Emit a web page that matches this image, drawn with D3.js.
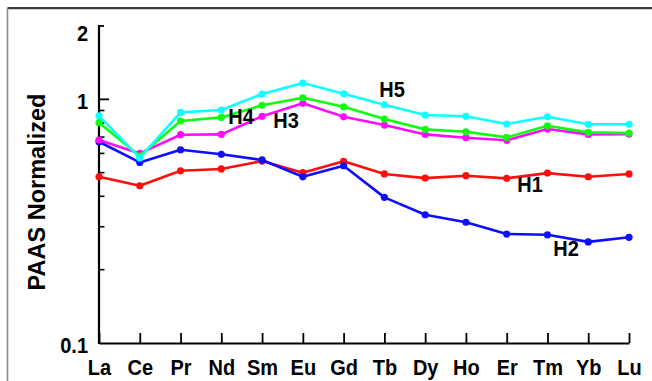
<!DOCTYPE html>
<html><head><meta charset="utf-8">
<script src="https://cdn.jsdelivr.net/npm/d3@7"></script>
<style>
html,body{margin:0;padding:0;background:#fff;}
svg{display:block;}
text{font-family:"Liberation Sans",Arial,Helvetica,sans-serif;font-weight:bold;fill:#000;}
</style></head>
<body>
<svg id="chart" width="652" height="381"></svg>
<script>
const elements = ["La","Ce","Pr","Nd","Sm","Eu","Gd","Tb","Dy","Ho","Er","Tm","Yb","Lu"];
const seriesNames = ["H1","H2","H3","H4","H5"];
const seriesColors = ["#ff0d0d","#0d0dff","#ff0dff","#0dff0d","#0dffff"];
const H1 = [0.481,0.442,0.509,0.518,0.558,0.500,0.557,0.494,0.475,0.486,0.474,0.498,0.481,0.494];
const H2 = [0.670,0.551,0.621,0.595,0.564,0.481,0.534,0.396,0.336,0.313,0.280,0.278,0.260,0.2715];
const H3 = [0.681,0.600,0.716,0.718,0.852,0.963,0.848,0.784,0.718,0.696,0.679,0.755,0.718,0.720];
const H4 = [0.802,0.585,0.815,0.843,0.945,1.015,0.932,0.830,0.753,0.736,0.698,0.779,0.732,0.727];
const H5 = [0.856,0.575,0.884,0.904,1.051,1.166,1.054,0.950,0.862,0.852,0.792,0.848,0.790,0.790];
const yMajorTicks = [0.1, 1, 2];
const yMinorTicks = [0.2,0.3,0.4,0.5,0.6,0.7,0.8,0.9];
const yTitle = "PAAS Normalized";

const seriesData = [H1,H2,H3,H4,H5];

const svg = d3.select("#chart");
// frame (cropped figure border)
svg.append("line").attr("x1",7.5).attr("x2",652).attr("y1",8).attr("y2",8).attr("stroke","#3a3a3a").attr("stroke-width",2);
svg.append("line").attr("x1",7.5).attr("x2",652).attr("y1",9.5).attr("y2",9.5).attr("stroke","#cfcfcf").attr("stroke-width",1);
svg.append("line").attr("x1",7.5).attr("x2",7.5).attr("y1",8).attr("y2",381).attr("stroke","#8a8a8a").attr("stroke-width",1.6);

const x = d3.scalePoint().domain(elements).range([99, 629]);
const y = d3.scaleLog().domain([0.1, 2]).range([343, 26]);

// x axis
const xAxis = d3.axisBottom(x).tickSize(-10).tickPadding(0).tickSizeOuter(0);
const gx = svg.append("g").attr("transform","translate(0,343)").call(xAxis);
gx.select(".domain").attr("stroke","#000").attr("stroke-width",2.2);
gx.selectAll(".tick line").attr("stroke","#000").attr("stroke-width",1.8);
gx.selectAll(".tick text").attr("font-size",20).attr("dy",0).attr("y",0)
  .attr("transform","translate(0,32) scale(1,1.08)").attr("fill","#000");

// y axis line
svg.append("line").attr("x1",99).attr("x2",99).attr("y1",y(2)-1).attr("y2",344).attr("stroke","#000").attr("stroke-width",2.2);
// major ticks
svg.selectAll(".ymaj").data([1]).enter().append("line")
  .attr("x1",99).attr("x2",109).attr("y1",d=>y(d)).attr("y2",d=>y(d)).attr("stroke","#000").attr("stroke-width",1.8);
svg.selectAll(".ytop").data([2]).enter().append("line")
  .attr("x1",98).attr("x2",104).attr("y1",d=>y(d)).attr("y2",d=>y(d)).attr("stroke","#000").attr("stroke-width",1.8);
svg.selectAll(".ymin").data(yMinorTicks).enter().append("line")
  .attr("x1",99).attr("x2",104.5).attr("y1",d=>y(d)).attr("y2",d=>y(d)).attr("stroke","#000").attr("stroke-width",1.6);
svg.selectAll(".ylab").data(yMajorTicks).enter().append("text")
  .attr("transform",d=>`translate(88,${y(d) + (d===2 ? 7 : 2)}) scale(1,1.08)`).attr("dy","0.36em")
  .attr("text-anchor","end").attr("font-size",20).text(d=>String(d));

// y title
svg.append("text").attr("transform","translate(45,192) rotate(-90)")
  .attr("text-anchor","middle").attr("font-size",23.5).text(yTitle);

// series
const line = d3.line().x((d,i)=>x(elements[i])).y(d=>y(d));
seriesData.forEach((vals,si)=>{
  const g = svg.append("g");
  g.append("path").datum(vals).attr("d",line).attr("fill","none")
    .attr("stroke",seriesColors[si]).attr("stroke-width",2.6).attr("stroke-linejoin","round");
  g.selectAll("circle").data(vals).enter().append("circle")
    .attr("cx",(d,i)=>x(elements[i])).attr("cy",d=>y(d)).attr("r",3.6).attr("fill",seriesColors[si]);
});

// series labels
const labelSpecs = [
  {name:"H1", px:530, py:192},
  {name:"H2", px:566, py:256},
  {name:"H3", px:286, py:128},
  {name:"H4", px:241, py:124},
  {name:"H5", px:392, py:97}
];
svg.selectAll(".slab").data(labelSpecs).enter().append("text")
  .attr("transform",d=>`translate(${d.px},${d.py}) scale(1,1.08)`)
  .attr("text-anchor","middle").attr("font-size",20).text(d=>d.name);
</script>
</body></html>
